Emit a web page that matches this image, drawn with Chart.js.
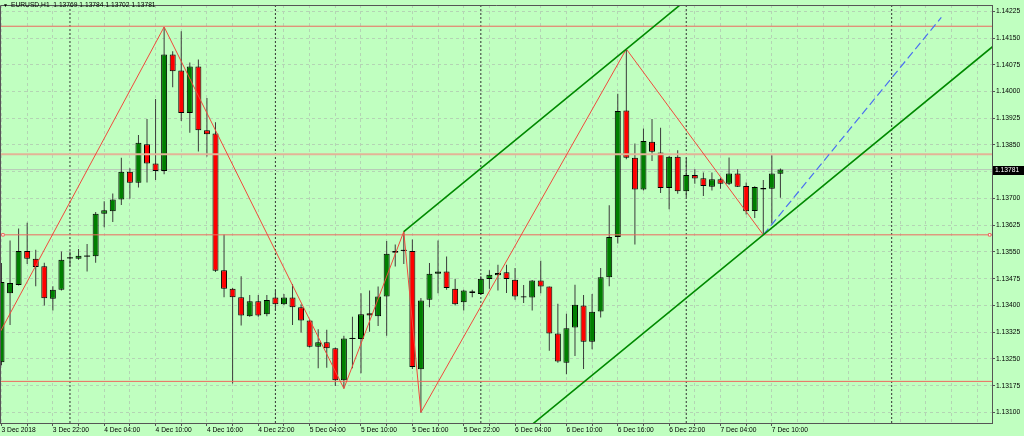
<!DOCTYPE html>
<html>
<head>
<meta charset="utf-8">
<script src="https://cdn.jsdelivr.net/npm/chart.js@4/dist/chart.umd.min.js"></script>
<style>
  html, body { margin: 0; padding: 0; background: #c0ffc0; }
  #wrap { position: relative; width: 1024px; height: 436px; }
  #head { position: absolute; left: 3px; top: 2px; font: 6.7px/1 "Liberation Sans", Arial, sans-serif; color: #000; white-space: pre; }
  #head .tri { font-size: 5px; margin-right: 3px; }
</style>
</head>
<body>
<div id="wrap">
  <canvas id="chart" width="1024" height="436"></canvas>
  <div id="head"><span class="tri">▼</span>EURUSD,H1  1.13769 1.13784 1.13702 1.13781</div>
</div>
<script>
// hourly bars, 3 Dec 16:00 .. 7 Dec 11:00
var opens = [1.13241, 1.13434, 1.13457, 1.13553, 1.13531, 1.13510, 1.13419, 1.13444, 1.13532, 1.13531,
    1.13537, 1.13538, 1.13657, 1.13664, 1.13697, 1.13775, 1.13744, 1.13852, 1.13798, 1.13777,
    1.14104, 1.14059, 1.13940, 1.14070, 1.13891, 1.13882, 1.13499, 1.13447, 1.13423, 1.13370,
    1.13412, 1.13375, 1.13422, 1.13403, 1.13422, 1.13395, 1.13358, 1.13284, 1.13297, 1.13280,
    1.13190, 1.13306, 1.13306, 1.13378, 1.13370, 1.13425, 1.13548, 1.13553, 1.13553, 1.13221,
    1.13416, 1.13489, 1.13495, 1.13447, 1.13409, 1.13440, 1.13432, 1.13474, 1.13485, 1.13493,
    1.13472, 1.13426, 1.13422, 1.13470, 1.13453, 1.13321, 1.13239, 1.13338, 1.13400, 1.13298,
    1.13383, 1.13479, 1.13592, 1.13947, 1.13814, 1.13725, 1.13859, 1.13829, 1.13729, 1.13817,
    1.13720, 1.13766, 1.13757, 1.13733, 1.13754, 1.13741, 1.13770, 1.13735, 1.13665, 1.13729,
    1.13727, 1.13769];
var highs = [1.13519, 1.13582, 1.13616, 1.13632, 1.13556, 1.13520, 1.13454, 1.13551, 1.13551, 1.13558,
    1.13572, 1.13662, 1.13692, 1.13714, 1.13814, 1.13785, 1.13878, 1.13923, 1.13979, 1.14181,
    1.14113, 1.14169, 1.14081, 1.14090, 1.13982, 1.13914, 1.13599, 1.13449, 1.13482, 1.13429,
    1.13429, 1.13429, 1.13442, 1.13432, 1.13460, 1.13403, 1.13361, 1.13333, 1.13332, 1.13282,
    1.13315, 1.13368, 1.13434, 1.13442, 1.13453, 1.13581, 1.13571, 1.13607, 1.13585, 1.13421,
    1.13519, 1.13582, 1.13537, 1.13475, 1.13444, 1.13444, 1.13482, 1.13499, 1.13514, 1.13514,
    1.13505, 1.13457, 1.13471, 1.13525, 1.13453, 1.13405, 1.13377, 1.13458, 1.13429, 1.13432,
    1.13505, 1.13681, 1.13994, 1.14119, 1.13854, 1.13896, 1.13923, 1.13898, 1.13819, 1.13835,
    1.13815, 1.13782, 1.13773, 1.13773, 1.13759, 1.13815, 1.13782, 1.13745, 1.13734, 1.13752,
    1.13821, 1.13784];
var lows = [1.13232, 1.13345, 1.13456, 1.13516, 1.13454, 1.13400, 1.13386, 1.13442, 1.13509, 1.13528,
    1.13495, 1.13520, 1.13619, 1.13634, 1.13682, 1.13699, 1.13731, 1.13745, 1.13752, 1.13768,
    1.14012, 1.13917, 1.13884, 1.13832, 1.13818, 1.13494, 1.13423, 1.13181, 1.13344, 1.13368,
    1.13368, 1.13370, 1.13386, 1.13401, 1.13345, 1.13324, 1.13282, 1.13224, 1.13225, 1.13174,
    1.13167, 1.13224, 1.13210, 1.13326, 1.13342, 1.13315, 1.13509, 1.13516, 1.13222, 1.13100,
    1.13395, 1.13434, 1.13444, 1.13400, 1.13386, 1.13423, 1.13429, 1.13447, 1.13442, 1.13435,
    1.13416, 1.13407, 1.13386, 1.13434, 1.13273, 1.13239, 1.13207, 1.13258, 1.13222, 1.13277,
    1.13366, 1.13454, 1.13574, 1.13810, 1.13571, 1.13722, 1.13805, 1.13715, 1.13670, 1.13713,
    1.13704, 1.13741, 1.13707, 1.13722, 1.13727, 1.13738, 1.13732, 1.13655, 1.13645, 1.13598,
    1.13630, 1.13702];
var closes = [1.13466, 1.13463, 1.13553, 1.13531, 1.13508, 1.13420, 1.13444, 1.13528, 1.13532, 1.13539,
    1.13537, 1.13657, 1.13667, 1.13697, 1.13775, 1.13744, 1.13856, 1.13798, 1.13777, 1.14104,
    1.14057, 1.13940, 1.14070, 1.13891, 1.13880, 1.13497, 1.13447, 1.13423, 1.13372, 1.13412,
    1.13372, 1.13415, 1.13403, 1.13422, 1.13395, 1.13358, 1.13284, 1.13297, 1.13280, 1.13190,
    1.13307, 1.13306, 1.13375, 1.13372, 1.13425, 1.13545, 1.13553, 1.13553, 1.13227, 1.13414,
    1.13489, 1.13495, 1.13449, 1.13403, 1.13442, 1.13435, 1.13475, 1.13486, 1.13491, 1.13474,
    1.13425, 1.13422, 1.13470, 1.13453, 1.13321, 1.13243, 1.13336, 1.13402, 1.13298, 1.13382,
    1.13479, 1.13592, 1.13945, 1.13814, 1.13725, 1.13861, 1.13831, 1.13729, 1.13817, 1.13720,
    1.13766, 1.13756, 1.13735, 1.13754, 1.13741, 1.13770, 1.13733, 1.13664, 1.13732, 1.13725,
    1.13770, 1.13781];

var timeLabels = ['3 Dec 2018', '3 Dec 22:00', '4 Dec 04:00', '4 Dec 10:00', '4 Dec 16:00', '4 Dec 22:00',
    '5 Dec 04:00', '5 Dec 10:00', '5 Dec 16:00', '5 Dec 22:00', '6 Dec 04:00', '6 Dec 10:00',
    '6 Dec 16:00', '6 Dec 22:00', '7 Dec 04:00', '7 Dec 10:00'];
var priceTicks = [1.13100, 1.13175, 1.13250, 1.13325, 1.13400, 1.13475, 1.13550, 1.13625,
    1.13700, 1.13775, 1.13850, 1.13925, 1.14000, 1.14075, 1.14150, 1.14225];

// objects drawn on the chart (bar index, price)
var zigzagBars = [-1, 19, 40, 47, 49, 73, 89];
var zigzagPrices = [1.13288, 1.14181, 1.13167, 1.13607, 1.13100, 1.14119, 1.13598];
var channelUpper = [[47, 1.13607], [73, 1.14119], [116, 1.14966]];
var channelLower = [[60, 1.13027], [89, 1.13598], [116, 1.14130]];
var projection = [[89, 1.13598], [109.8, 1.14208]];
var levels = [1.14183, 1.13824, 1.13598, 1.13187];
var daySeparators = [8, 32, 56, 80, 104];

var X_MIN = -0.175, X_MAX = 115.72;
var Y_MIN = 1.130703, Y_MAX = 1.142425;

var FONT = '"Liberation Sans", Arial, sans-serif';
Chart.defaults.font.family = FONT;
Chart.defaults.font.size = 6.7;
Chart.defaults.color = '#000';

var bodies = [], wicks = [], bodyColors = [], bodyBorders = [];
for (var i = 0; i < opens.length; i++) {
    bodies.push({ x: i, y: [opens[i], closes[i]] });
    wicks.push({ x: i, y: [lows[i], highs[i]] });
    if (closes[i] > opens[i]) { bodyColors.push('#007f00'); bodyBorders.push(1); }
    else if (closes[i] < opens[i]) { bodyColors.push('#ff0000'); bodyBorders.push(1); }
    else { bodyColors.push('#000'); bodyBorders.push(0); }
}

function lineSet(points, color, width, dash, order) {
    return {
        type: 'line',
        data: points.map(function (p) { return { x: p[0], y: p[1] }; }),
        borderColor: color,
        borderWidth: width,
        borderDash: dash || [],
        pointRadius: 0,
        tension: 0,
        order: order
    };
}

var datasets = [];
datasets.push({
    type: 'bar', data: wicks, backgroundColor: '#3a3a3a', borderWidth: 0,
    barThickness: 1, grouped: false, inflateAmount: 0, order: 6
});
datasets.push({
    type: 'bar', data: bodies, backgroundColor: bodyColors, borderColor: '#000',
    borderWidth: bodyBorders, borderSkipped: false, minBarLength: 1,
    barThickness: 6, grouped: false, inflateAmount: 0, order: 5
});

// day separators
var sepPts = [];
daySeparators.forEach(function (b) {
    sepPts.push({ x: b, y: Y_MIN }, { x: b, y: Y_MAX }, { x: b, y: null });
});
datasets.push({
    type: 'line', data: sepPts, borderColor: '#333', borderWidth: 1, borderDash: [2, 2],
    pointRadius: 0, spanGaps: false, order: 8
});

// bid line
var last = closes[closes.length - 1];
datasets.push(lineSet([[X_MIN, last], [X_MAX, last]], '#b8c8b8', 1, null, 7));

levels.forEach(function (lv, k) {
    if (k === 1) {
        datasets.push(lineSet([[X_MIN, lv], [X_MAX, lv]], '#e3b497', 2, null, 4));
    } else {
        datasets.push(lineSet([[X_MIN, lv], [X_MAX, lv]], '#ec6a5e', 1, null, 4));
    }
});
datasets.push({
    type: 'line', data: [{ x: 0.17, y: levels[2] }, { x: 115.45, y: levels[2] }],
    showLine: false, pointStyle: 'rect', pointRadius: 1.8, pointBackgroundColor: '#fff',
    pointBorderColor: '#ec6a5e', pointBorderWidth: 1, order: 3
});

datasets.push(lineSet(zigzagBars.map(function (b, k) { return [b, zigzagPrices[k]]; }), '#f04a3c', 1, null, 2));
datasets.push(lineSet(channelUpper, '#008a00', 1.6, null, 1));
datasets.push(lineSet(channelLower, '#008a00', 1.6, null, 1));
datasets.push(lineSet(projection, '#4a6ff0', 1.2, [8, 4], 1));

var frameAndTag = {
    id: 'frameAndTag',
    afterDraw: function (chart) {
        var ctx = chart.ctx, a = chart.chartArea, y = chart.scales.y;
        var py = Math.round(y.getPixelForValue(last));
        ctx.save();
        ctx.strokeStyle = '#555';
        ctx.lineWidth = 1;
        ctx.beginPath();
        ctx.moveTo(a.left + 0.5, a.bottom);
        ctx.lineTo(a.left + 0.5, a.top + 0.5);
        ctx.lineTo(a.right, a.top + 0.5);
        ctx.stroke();
        ctx.fillStyle = '#000';
        ctx.fillRect(a.right + 1, py - 4, 1024 - a.right, 9);
        ctx.fillStyle = '#fff';
        ctx.font = '6.7px ' + FONT;
        ctx.textBaseline = 'middle';
        ctx.fillText(last.toFixed(5), a.right + 3, py + 0.5);
        ctx.restore();
    }
};

new Chart(document.getElementById('chart'), {
    type: 'bar',
    data: { datasets: datasets },
    plugins: [frameAndTag],
    options: {
        responsive: false,
        animation: false,
        layout: { padding: { top: 1, left: 0, right: 0, bottom: 0 }, autoPadding: false },
        plugins: { legend: { display: false }, tooltip: { enabled: false } },
        scales: {
            x: {
                type: 'linear', min: X_MIN, max: X_MAX, offset: false,
                afterBuildTicks: function (s) {
                    var t = [];
                    for (var v = 0; v <= 114; v += 3) t.push({ value: v });
                    s.ticks = t;
                },
                afterFit: function (s) { s.height = 13; },
                ticks: {
                    autoSkip: false, maxRotation: 0, align: 'start', padding: 0,
                    callback: function (v) {
                        return (v % 6 === 0 && v / 6 < timeLabels.length) ? timeLabels[v / 6] : '';
                    }
                },
                grid: {
                    offset: false, color: '#b4d4b4', tickLength: 3,
                    tickColor: function (c) { return c.tick && c.tick.value > 91 ? 'rgba(0,0,0,0)' : '#555'; }
                },
                border: { color: '#555', dash: [3, 3] }
            },
            y: {
                position: 'right', min: Y_MIN, max: Y_MAX,
                afterBuildTicks: function (s) {
                    s.ticks = priceTicks.map(function (v) { return { value: v }; });
                },
                afterFit: function (s) { s.width = 32; },
                ticks: {
                    padding: 1,
                    callback: function (v) { return v.toFixed(5); }
                },
                grid: { color: '#b4d4b4', tickLength: 3, tickColor: '#555' },
                border: { color: '#555', dash: [3, 3] }
            }
        }
    }
});
</script>
</body>
</html>
